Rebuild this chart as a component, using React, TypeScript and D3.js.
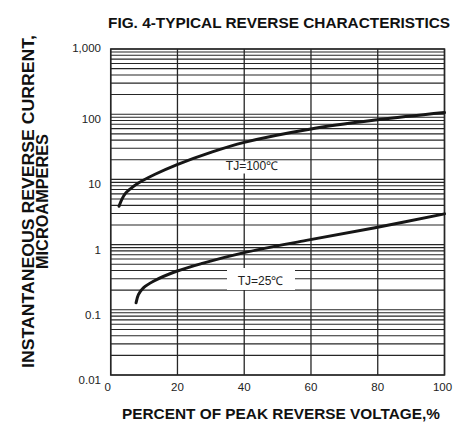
import React from "react";
import * as d3 from "d3";

const W = 475;
const H = 432;

const xTicks = [0, 20, 40, 60, 80, 100];
const yDecades = [0.01, 0.1, 1, 10, 100, 1000];
const yTickLabels = ["0.01", "0.1", "1", "10", "100", "1,000"];

const tj100X = [2.5, 3.3, 4.3, 5.8, 8.3, 13.3, 19.9, 30, 40, 60, 80, 100];
const tj100Y = [3.87, 4.9, 6.0, 7.1, 8.8, 12.0, 16.9, 26.0, 37.0, 59.5, 82, 106];

const tj25X = [7.6, 8.3, 9.8, 12.8, 19.7, 27.7, 39.7, 58.6, 78.8, 100];
const tj25Y = [0.128, 0.171, 0.217, 0.274, 0.39, 0.52, 0.746, 1.16, 1.8, 2.96];

const FONT = "'Liberation Sans', Arial, Helvetica, sans-serif";

export default function App() {
  const left = 110.7;
  const right = 444.5;
  const top = 49;
  const bottom = 375;

  const x = d3.scaleLinear().domain([0, 100]).range([left, right]);
  const y = d3.scaleLog().domain([0.01, 1000]).range([bottom, top]);

  const minorVals: number[] = [];
  for (let d = 0; d < yDecades.length - 1; d++) {
    for (let k = 1; k <= 9; k++) minorVals.push(yDecades[d] * k);
  }
  minorVals.push(1000);

  const line = d3
    .line<[number, number]>()
    .x((d) => x(d[0]))
    .y((d) => y(d[1]))
    .curve(d3.curveCatmullRom.alpha(0.5));

  const d100 = line(tj100X.map((v, i) => [v, tj100Y[i]] as [number, number])) || "";
  const d25 = line(tj25X.map((v, i) => [v, tj25Y[i]] as [number, number])) || "";

  const gridColor = "#262626";

  return (
    <svg
      width={W}
      height={H}
      style={{ position: "absolute", left: 0, top: 0, background: "#fff" }}
      fontFamily={FONT}
    >
      <rect x={0} y={0} width={W} height={H} fill="#fff" />
      {/* title */}
      <text
        x={279}
        y={28}
        textAnchor="middle"
        fontWeight="bold"
        fontSize={15}
        fill="#111"
        textLength={342}
        lengthAdjust="spacingAndGlyphs"
      >
        FIG. 4-TYPICAL REVERSE CHARACTERISTICS
      </text>

      {/* horizontal grid */}
      {minorVals.map((v, i) => (
        <line
          key={"h" + i}
          x1={left}
          x2={right}
          y1={y(v)}
          y2={y(v)}
          stroke={gridColor}
          strokeWidth={1.1}
        />
      ))}
      {/* vertical grid */}
      {xTicks.map((t) => (
        <line
          key={"v" + t}
          x1={x(t)}
          x2={x(t)}
          y1={top}
          y2={bottom}
          stroke={gridColor}
          strokeWidth={1.3}
        />
      ))}
      <rect
        x={left}
        y={top}
        width={right - left}
        height={bottom - top}
        fill="none"
        stroke={gridColor}
        strokeWidth={1.5}
      />

      {/* label boxes */}
      <rect x={222} y={161.5} width={60} height={12} fill="#fff" />
      <rect x={227} y={268} width={68} height={22} fill="#fff" />

      {/* curves */}
      <path d={d100} fill="none" stroke="#161616" strokeWidth={3} strokeLinecap="round" />
      <path d={d25} fill="none" stroke="#161616" strokeWidth={3} strokeLinecap="round" />

      <text x={252} y={170} textAnchor="middle" fontSize={12} fill="#222">
        TJ=100℃
      </text>
      <text x={260.5} y={284.5} textAnchor="middle" fontSize={12} fill="#222">
        TJ=25℃
      </text>

      {/* y tick labels */}
      {yDecades.map((v, i) => (
        <text
          key={"yl" + i}
          x={101}
          y={y(v) + (v === 1000 ? 3 : 9)}
          textAnchor="end"
          fontSize={11.5}
          fill="#222"
        >
          {yTickLabels[i]}
        </text>
      ))}

      {/* x tick labels */}
      {xTicks.map((t) => (
        <text
          key={"xl" + t}
          x={x(t) + (t === 0 ? -3 : t === 100 ? -2 : 0)}
          y={390.5}
          textAnchor="middle"
          fontSize={11.5}
          fill="#222"
        >
          {t}
        </text>
      ))}

      {/* x axis title */}
      <text
        x={281}
        y={418.5}
        textAnchor="middle"
        fontWeight="bold"
        fontSize={15.5}
        fill="#111"
        textLength={318}
        lengthAdjust="spacingAndGlyphs"
      >
        PERCENT OF PEAK REVERSE VOLTAGE,%
      </text>

      {/* y axis title */}
      <g transform="translate(33.5,201.5) rotate(-90)">
        <text
          x={0}
          y={0}
          textAnchor="middle"
          fontWeight="bold"
          fontSize={17}
          fill="#111"
          textLength={333}
          lengthAdjust="spacingAndGlyphs"
        >
          INSTANTANEOUS REVERSE CURRENT,
        </text>
        <text
          x={0}
          y={14.5}
          textAnchor="middle"
          fontWeight="bold"
          fontSize={17}
          fill="#111"
          textLength={135}
          lengthAdjust="spacingAndGlyphs"
        >
          MICROAMPERES
        </text>
      </g>
    </svg>
  );
}
